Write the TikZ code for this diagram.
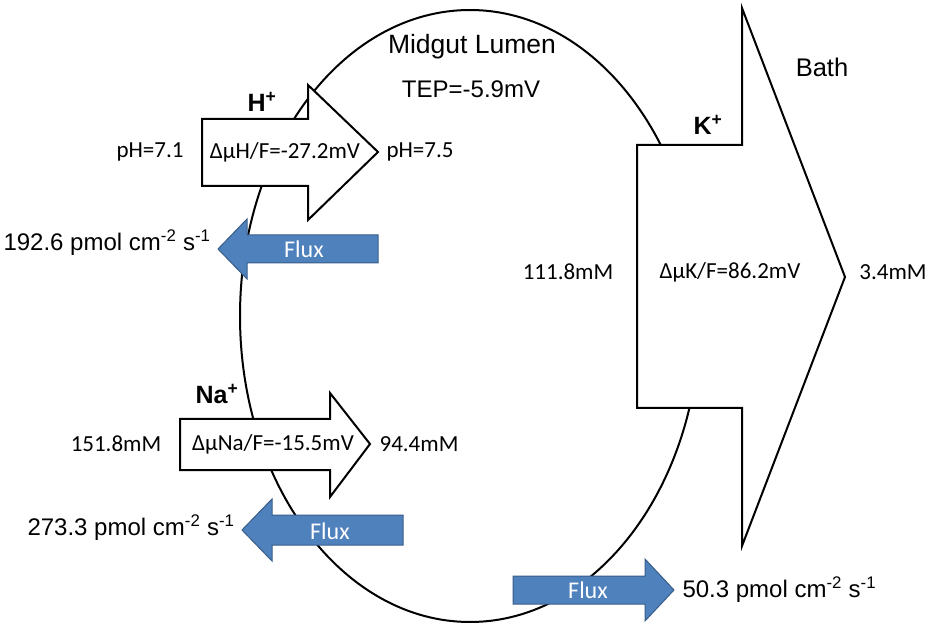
\documentclass[tikz,border=0pt]{standalone}
\usepackage{fontspec}
\setmainfont{Liberation Sans}
\newfontfamily\calfont{Carlito}
\usetikzlibrary{positioning}

\definecolor{fluxblue}{HTML}{4F81BD}
\definecolor{fluxedge}{HTML}{385D8A}

\begin{document}
\begin{tikzpicture}[x=1pt, y=-1pt, line join=miter,
  wall/.style={draw, line width=2pt, fill=white},
  flux/.style={draw=fluxedge, fill=fluxblue, line width=1pt},
  arial/.style={font=\fontsize{24}{28}\selectfont},
  calib/.style={font=\calfont\fontsize{23}{27}\selectfont},
  fluxtext/.style={font=\calfont\fontsize{24}{28}\selectfont, text=white},
  ion/.style={font=\bfseries\fontsize{25}{29}\selectfont}]

\useasboundingbox (0,0) rectangle (935,628);

% lumen
\draw[line width=2pt] (470,316) ellipse [x radius=230, y radius=306];

% gradients
\draw[wall] (202,119) -- (308,119) -- (308,85) -- (378,152) -- (308,220) -- (308,186) -- (202,186) -- cycle;
\draw[wall] (180,419) -- (330,419) -- (330,393) -- (370,444) -- (330,497) -- (330,470) -- (180,470) -- cycle;
\draw[wall] (637,145) -- (742,145) -- (742,8) -- (845,277) -- (742,546) -- (742,408) -- (637,408) -- cycle;

% fluxes
\draw[flux] (378,235) -- (247,235) -- (247,219) -- (218,249) -- (247,279) -- (247,263) -- (378,263) -- cycle;
\draw[flux] (403,515) -- (272,515) -- (272,499) -- (242,530) -- (272,561) -- (272,545) -- (403,545) -- cycle;
\draw[flux] (513,576) -- (645,576) -- (645,559) -- (674,590) -- (645,621) -- (645,604) -- (513,604) -- cycle;

\node[arial, font=\fontsize{26.5}{30}\selectfont] (lumen) at (472,47) {Midgut Lumen};
\node[arial] (tep) at (471,89) {TEP=-5.9mV};
\node[arial, font=\fontsize{25.5}{30}\selectfont] (bath) at (822,67) {Bath};

% H+
\node[ion] (hion) at (262,102) {H\textsuperscript{+}};
\node[calib] (phin) at (150,152) {pH=7.1};
\node[calib] (dmuh) at (285,152) {ΔµH/F=-27.2mV};
\node[calib] (phout) at (420,152) {pH=7.5};
\node[fluxtext] (hflux) at (304,249) {Flux};
\node[arial, anchor=east] (hrate) at (214,243) {192.6 pmol cm\textsuperscript{-2} s\textsuperscript{-1}};

% Na+
\node[ion] (naion) at (217,394) {Na\textsuperscript{+}};
\node[calib] (nain) at (116,444) {151.8mM};
\node[calib] (dmuna) at (273,444) {ΔµNa/F=-15.5mV};
\node[calib] (naout) at (419,444) {94.4mM};
\node[fluxtext] (naflux) at (330,531) {Flux};
\node[arial, anchor=east] (narate) at (238,528) {273.3 pmol cm\textsuperscript{-2} s\textsuperscript{-1}};

% K+
\node[ion] (kion) at (708,125) {K\textsuperscript{+}};
\node[calib] (kin) at (568,272) {111.8mM};
\node[calib] (dmuk) at (730,272) {ΔµK/F=86.2mV};
\node[calib] (kout) at (893,272) {3.4mM};
\node[fluxtext] (kflux) at (588,590) {Flux};
\node[arial, anchor=west] (krate) at (679,590) {50.3 pmol cm\textsuperscript{-2} s\textsuperscript{-1}};

\end{tikzpicture}
\end{document}
